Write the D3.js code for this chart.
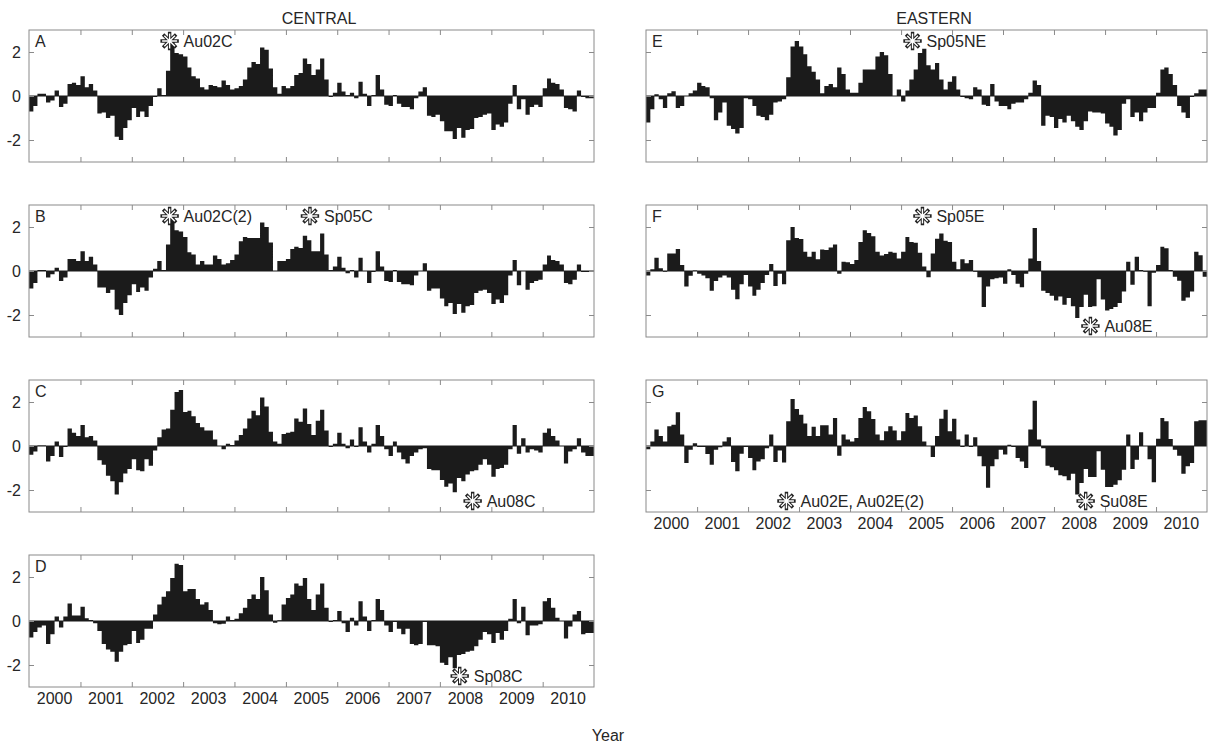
<!DOCTYPE html>
<html>
<head>
<meta charset="utf-8">
<script src="https://cdn.jsdelivr.net/npm/d3@7/dist/d3.min.js"></script>
<style>
	body { margin: 0; background: #fff; }
	text { font-family: "Liberation Sans", Arial, sans-serif; fill: #262626; }
</style>
</head>
<body>
<div id="chart"></div>
<script>
/*
// Monthly anomaly bars, central (A-D) and eastern (E-G) series, 2000-2010
*/

const years = [2000, 2001, 2002, 2003, 2004, 2005, 2006, 2007, 2008, 2009, 2010];
const yTicks = [-2, 0, 2];
const groupTitles = ["CENTRAL", "EASTERN"];
const axisTitle = "Year";

// One value per month, Jan 2000 .. Dec 2010
const seriesA = [
	-0.7,-0.45,0.1,0.1,-0.3,-0.2,0.25,-0.5,-0.35,0.55, 0.6,0.5,0.9,0.4,0.55,0.25,-0.8,-0.75,-1.0,-0.9,
	-1.85,-2.0,-1.45,-1.1,-0.55,-0.95,-0.7,-0.95,-0.45,-0.05, 0.35,0.05,1.15,2.45,1.95,1.9,1.8,1.3,0.9,0.8,
	0.4,0.3,0.5,0.45,0.4,0.7,0.5,0.3,0.35,0.45, 0.75,1.3,1.55,1.45,2.2,2.1,1.25,0.4,0.1,0.45,
	0.35,0.45,0.95,1.05,1.7,1.45,0.95,1.2,1.7,0.75, -0.05,0.15,0.6,0.2,0.05,0.15,-0.1,0.65,0.1,-0.45,
	0.05,0.95,0.3,-0.4,-0.45,0.05,-0.35,-0.5,-0.5,-0.6, -0.1,0.2,0.4,-0.9,-0.95,-0.85,-1.15,-1.6,-1.6,-1.95,
	-1.45,-1.9,-1.55,-1.5,-1.0,-0.95,-0.85,-0.8,-1.55,-1.3, -1.4,-1.2,-0.35,0.5,-0.6,-0.15,-0.85,-0.5,-0.4,-0.5,
	0.35,0.8,0.6,0.55,0.3,-0.55,-0.6,-0.7,0.25,-0.05, -0.1,-0.1
];
const seriesB = [
	-0.8,-0.55,0.05,0.05,-0.3,-0.15,0.15,-0.45,-0.3,0.55, 0.55,0.45,0.9,0.45,0.65,0.3,-0.75,-0.75,-1.0,-0.85,
	-1.75,-2.0,-1.45,-1.1,-0.6,-0.95,-0.75,-0.9,-0.3,0.1, 0.45,0.05,1.2,2.45,1.85,1.8,1.55,0.85,0.75,0.3,
	0.45,0.3,0.3,0.7,0.55,0.3,0.35,0.5,0.75,1.35, 1.55,1.5,1.5,1.5,2.2,2.0,1.3,0.0,0.45,0.45,
	0.55,1.0,1.1,1.05,1.6,1.4,0.9,0.9,1.7,0.75, 0.05,0.2,0.65,0.15,-0.1,0.05,-0.3,0.6,0.0,-0.55,
	-0.05,0.9,0.2,-0.45,-0.5,0.05,-0.5,-0.6,-0.6,-0.65, -0.2,0.0,0.35,-0.9,-0.8,-0.8,-1.25,-1.6,-1.45,-1.95,
	-1.5,-1.9,-1.6,-1.55,-1.0,-0.9,-0.85,-1.0,-1.5,-1.3, -1.45,-1.1,-0.2,0.5,-0.65,0.0,-0.85,-0.55,-0.45,-0.4,
	0.3,0.7,0.5,0.45,0.3,-0.55,-0.6,-0.4,0.3,-0.05, -0.05,-0.05
];
const seriesC = [
	-0.4,-0.25,0.02,0.02,-0.7,-0.45,0.2,-0.5,-0.05,0.8, 0.6,0.45,0.95,0.4,0.45,0.25,-0.65,-0.85,-1.35,-1.6,
	-2.2,-1.65,-1.25,-1.05,-0.6,-1.1,-1.15,-0.6,-0.9,-0.2, 0.4,0.75,0.8,1.65,2.45,2.55,1.55,1.6,1.35,1.05,
	0.85,0.7,0.7,0.3,0.0,-0.15,0.1,0.05,0.25,0.5, 0.8,1.25,1.6,1.4,2.2,1.8,0.65,0.2,0.1,0.55,
	0.6,0.65,1.25,1.1,1.7,1.0,0.5,1.15,1.65,0.7, -0.05,0.1,0.6,0.1,-0.1,0.3,-0.05,0.85,0.2,-0.3,
	0.1,0.95,0.45,-0.15,-0.45,0.2,-0.3,-0.6,-0.8,-0.45, -0.3,-0.15,-0.1,-1.05,-1.1,-1.1,-1.55,-1.85,-1.7,-2.1,
	-1.45,-1.6,-1.3,-1.15,-1.1,-0.85,-0.6,-0.85,-1.4,-1.05, -1.0,-0.85,-0.15,0.95,-0.35,0.35,-0.3,-0.15,-0.2,-0.3,
	0.6,0.8,0.45,0.25,0.0,-0.8,-0.25,-0.15,0.35,-0.3, -0.45,-0.45
];
const seriesD = [
	-0.75,-0.5,-0.3,-0.2,-1.05,-0.6,0.2,-0.3,0.2,0.8, 0.25,0.25,0.65,0.12,0.05,-0.1,-0.45,-1.05,-1.3,-1.4,
	-1.85,-1.4,-1.1,-1.05,-0.45,-1.0,-0.85,-0.35,-0.35,0.3, 0.75,1.1,1.35,1.95,2.6,2.55,1.35,1.45,1.45,1.0,
	0.75,0.85,0.5,-0.1,-0.15,-0.12,0.2,0.05,0.1,0.35, 0.6,1.0,1.2,1.0,2.0,1.4,0.3,-0.08,0.03,0.75,
	1.05,1.2,1.7,1.6,1.95,1.0,0.5,1.2,1.7,0.6, -0.05,0.05,0.45,-0.1,-0.5,0.15,-0.2,0.9,0.2,-0.45,
	0.05,1.0,0.5,-0.2,-0.5,-0.05,-0.35,-0.6,-0.35,-1.05, -1.1,-1.05,-0.05,-1.1,-1.1,-1.15,-1.9,-2.0,-1.65,-2.15,
	-1.55,-1.5,-1.4,-1.35,-1.15,-0.85,-0.5,-0.6,-1.0,-0.55, -0.85,-0.45,0.1,1.0,-0.1,0.65,-0.65,-0.2,-0.2,-0.15,
	0.9,1.05,0.6,0.15,0.0,-0.8,-0.25,0.3,0.45,-0.6, -0.55,-0.55
];
const seriesE = [
	-1.2,-0.6,0.08,-0.15,-0.55,0.12,0.22,-0.55,-0.45,0.0, 0.12,0.25,0.6,0.45,0.4,-0.1,-1.1,-0.75,-0.3,-1.35,
	-1.5,-1.7,-1.45,-0.1,-0.15,-0.45,-0.9,-0.95,-1.1,-0.85, -0.3,-0.25,-0.15,0.85,2.25,2.5,2.25,1.9,1.35,1.1,
	0.75,0.12,0.45,0.55,0.4,1.3,1.0,0.3,0.15,0.15, 0.6,1.2,1.2,1.2,1.8,2.0,1.85,1.0,0.0,0.3,
	-0.25,0.25,0.75,1.2,1.95,2.15,1.4,1.2,1.5,0.75, 0.3,0.65,0.9,0.3,-0.05,-0.1,-0.15,0.4,0.3,-0.4,
	-0.45,0.55,-0.25,-0.45,-0.45,-0.6,-0.35,-0.3,-0.3,-0.15, 0.15,0.7,0.5,-1.35,-0.9,-0.95,-1.45,-1.05,-1.2,-0.9,
	-1.15,-1.4,-1.55,-1.15,-0.7,-0.75,-0.75,-0.8,-1.25,-1.4, -1.8,-1.55,-0.35,-0.15,-0.95,-0.75,-1.15,-0.75,-0.55,-0.55,
	0.15,1.2,1.3,1.0,0.5,-0.45,-0.75,-1.0,-0.05,0.12, 0.3,0.3
];
const seriesF = [
	-0.2,0.08,0.6,0.12,-0.03,0.8,0.8,1.0,0.27,-0.7, -0.22,0.02,-0.13,-0.2,-0.33,-0.9,-0.45,-0.3,-0.2,-0.3,
	-0.85,-1.28,-0.6,-0.18,-0.7,-1.13,-0.85,-0.55,-0.18,0.32, -0.68,-0.13,-0.6,1.4,2.0,1.5,1.45,0.87,0.65,0.87,
	0.53,0.98,0.95,1.07,1.2,-0.13,0.42,0.4,0.32,0.5, 1.32,1.85,1.73,1.58,0.87,0.7,0.77,0.87,0.83,0.57,
	0.87,1.55,1.32,1.28,0.83,0.2,-0.28,0.8,1.47,1.7, 1.37,1.32,0.42,0.08,0.53,0.35,0.5,-0.03,-0.28,-1.64,
	-0.7,-0.37,-0.33,-0.3,-0.58,0.08,-0.18,-0.58,-0.74,-0.13, 0.57,1.95,0.45,-0.9,-1.0,-1.13,-1.34,-1.16,-1.53,-1.23,
	-1.6,-2.14,-1.64,-1.08,-1.64,-1.6,-0.37,-1.3,-1.8,-1.73, -1.64,-1.46,-0.93,0.42,-0.63,0.65,0.05,-0.03,-1.6,-0.08,
	0.27,1.1,1.03,0.05,-0.26,-0.44,-1.35,-1.2,-0.93,0.87, 0.72,-0.26
];
const seriesG = [
	-0.15,0.2,0.75,0.45,0.2,0.9,0.97,1.53,0.52,-0.77, -0.17,0.13,-0.05,-0.05,-0.36,-0.85,-0.17,-0.06,0.2,0.4,
	-0.73,-1.15,-0.35,-0.05,-0.55,-1.1,-0.7,-0.6,-0.1,0.52, -0.73,-0.2,-0.75,1.12,2.14,1.68,1.42,1.02,0.45,0.87,
	0.45,0.94,0.94,0.52,1.27,-0.44,0.52,0.29,0.2,0.36, 1.27,1.77,1.58,1.23,0.52,0.26,0.67,0.9,0.71,0.26,
	0.67,1.5,1.27,1.39,0.9,0.2,0.0,-0.5,0.45,1.24, 1.65,0.67,1.24,0.29,-0.05,0.52,-0.05,0.4,-0.47,-0.92,
	-1.9,-0.92,-0.6,-0.17,-0.39,0.06,-0.05,-0.55,-0.7,-1.0, 0.75,2.06,0.29,-0.1,-0.9,-0.97,-1.1,-1.33,-1.38,-1.56,
	-1.26,-2.2,-1.68,-1.05,-1.41,-1.41,-0.24,-1.08,-1.86,-1.86, -1.76,-1.56,-1.08,0.52,-1.05,-0.62,0.62,0.0,-0.6,-1.65,
	0.33,1.27,1.12,0.32,-0.17,-0.44,-1.26,-0.92,-0.77,1.12, 1.17,1.17
];

// Event markers: panel, date, value, label
const markers = [
	{panel: "A", date: "2002-09-27", value: 2.5, label: "Au02C"},
	{panel: "B", date: "2002-09-27", value: 2.5, label: "Au02C(2)"},
	{panel: "B", date: "2005-06-21", value: 2.5, label: "Sp05C"},
	{panel: "C", date: "2008-08-21", value: -2.5, label: "Au08C"},
	{panel: "D", date: "2008-05-21", value: -2.5, label: "Sp08C"},
	{panel: "E", date: "2005-03-24", value: 2.5, label: "Sp05NE"},
	{panel: "F", date: "2005-06-03", value: 2.5, label: "Sp05E"},
	{panel: "F", date: "2008-09-18", value: -2.5, label: "Au08E"},
	{panel: "G", date: "2002-10-03", value: -2.5, label: "Au02E, Au02E(2)"},
	{panel: "G", date: "2008-08-15", value: -2.5, label: "Su08E"}
];

const BAR_COLOR = "#1b1b1b";
const BOX_COLOR = "#8a8a8a";
const FONT_SIZE = 16;
const TICK_LEN = 5;

// Panel boxes in page pixels
const LEFT = {x: 29, w: 565};
const RIGHT = {x: 646, w: 561};
const PANEL_H = 132;
const panels = [
	{name: "A", data: seriesA, col: LEFT, top: 30, yLabels: true, xLabels: false},
	{name: "B", data: seriesB, col: LEFT, top: 205, yLabels: true, xLabels: false},
	{name: "C", data: seriesC, col: LEFT, top: 380, yLabels: true, xLabels: false},
	{name: "D", data: seriesD, col: LEFT, top: 555, yLabels: true, xLabels: true},
	{name: "E", data: seriesE, col: RIGHT, top: 30, yLabels: false, xLabels: false},
	{name: "F", data: seriesF, col: RIGHT, top: 205, yLabels: false, xLabels: false},
	{name: "G", data: seriesG, col: RIGHT, top: 380, yLabels: false, xLabels: true}
];

const svg = d3.select("#chart")
			  .append("svg")
			  .attr("width", 1216)
			  .attr("height", 744);

panels.forEach(p => drawPanel(svg, p));

svg.append("text")
   .attr("x", 319).attr("y", 24)
   .attr("text-anchor", "middle")
   .attr("font-size", FONT_SIZE + "px")
   .text(groupTitles[0]);

svg.append("text")
   .attr("x", 934).attr("y", 24)
   .attr("text-anchor", "middle")
   .attr("font-size", FONT_SIZE + "px")
   .text(groupTitles[1]);

svg.append("text")
   .attr("x", 608).attr("y", 741)
   .attr("text-anchor", "middle")
   .attr("font-size", FONT_SIZE + "px")
   .text(axisTitle);


/* Draws one panel: bars, zero line, box with inward ticks, labels and markers */
function drawPanel(svg, p) {
	const x = d3.scaleTime()
				.domain([new Date(years[0], 0, 1), new Date(years[years.length - 1] + 1, 0, 1)])
				.range([p.col.x, p.col.x + p.col.w]);
	const y = d3.scaleLinear()
				.domain([-3, 3])
				.range([p.top + PANEL_H, p.top]);

	const g = svg.append("g");

	// Bars as one stepped area so neighbouring months leave no seams
	const steps = p.data.map((d, i) => ({date: new Date(years[0], i, 1), v: d}));
	steps.push({date: new Date(years[0], p.data.length, 1), v: p.data[p.data.length - 1]});

	const bars = d3.area()
				   .curve(d3.curveStepAfter)
				   .x(d => x(d.date))
				   .y0(y(0))
				   .y1(d => y(d.v));

	g.append("path")
	 .datum(steps)
	 .attr("d", bars)
	 .attr("fill", BAR_COLOR);

	// Bar baseline
	g.append("line")
	 .attr("x1", p.col.x).attr("x2", p.col.x + p.col.w)
	 .attr("y1", y(0)).attr("y2", y(0))
	 .attr("stroke", BAR_COLOR)
	 .attr("stroke-width", 1);

	// Year boundaries for ticks, labels sit mid-year
	const bounds = years.slice(1).map(yr => new Date(yr, 0, 1));

	const axisTop = d3.axisBottom(x).tickValues(bounds).tickSize(TICK_LEN).tickFormat("");
	const axisBot = d3.axisTop(x).tickValues(bounds).tickSize(TICK_LEN).tickFormat("");
	const axisL = d3.axisRight(y).tickValues(yTicks).tickSize(TICK_LEN).tickFormat("");
	const axisR = d3.axisLeft(y).tickValues(yTicks).tickSize(TICK_LEN).tickFormat("");

	[[axisTop, 0, p.top], [axisBot, 0, p.top + PANEL_H], [axisL, p.col.x, 0], [axisR, p.col.x + p.col.w, 0]]
		.forEach(([ax, tx, ty]) => {
			const a = g.append("g")
					   .attr("transform", "translate(" + tx + "," + ty + ")")
					   .call(ax);
			a.select(".domain").remove();
			a.selectAll("line").attr("stroke", BOX_COLOR);
		});

	g.append("rect")
	 .attr("x", p.col.x).attr("y", p.top)
	 .attr("width", p.col.w).attr("height", PANEL_H)
	 .attr("fill", "none")
	 .attr("stroke", BOX_COLOR)
	 .attr("stroke-width", 1);

	// Panel letter
	g.append("text")
	 .attr("x", p.col.x + 6).attr("y", p.top + 17)
	 .attr("font-size", FONT_SIZE + "px")
	 .text(p.name);

	if (p.yLabels) {
		g.selectAll("text.ylab")
		 .data(yTicks)
		 .enter()
		 .append("text")
		 .attr("class", "ylab")
		 .attr("x", p.col.x - 8)
		 .attr("y", d => y(d) + 5.5)
		 .attr("text-anchor", "end")
		 .attr("font-size", FONT_SIZE + "px")
		 .text(d => d);
	}

	if (p.xLabels) {
		g.selectAll("text.xlab")
		 .data(years)
		 .enter()
		 .append("text")
		 .attr("class", "xlab")
		 .attr("x", yr => x(new Date(yr, 6, 1)))
		 .attr("y", p.top + PANEL_H + 17)
		 .attr("text-anchor", "middle")
		 .attr("font-size", FONT_SIZE + "px")
		 .text(yr => yr);
	}

	// Event markers: outlined asterisk and label
	const parse = d3.timeParse("%Y-%m-%d");
	const mk = g.selectAll("g.marker")
				.data(markers.filter(m => m.panel == p.name))
				.enter()
				.append("g")
				.attr("class", "marker")
				.attr("transform", m => "translate(" + x(parse(m.date)) + "," + y(m.value) + ")");

	const star = d3.range(4).map(k => {
		const a = k * Math.PI / 4;
		const r = 7.5;
		return "M" + (-r * Math.sin(a)) + "," + (-r * Math.cos(a)) + "L" + (r * Math.sin(a)) + "," + (r * Math.cos(a));
	}).join("");

	mk.append("path").attr("d", star)
	  .attr("stroke", "#222").attr("stroke-width", 3.4).attr("stroke-linecap", "square");
	mk.append("path").attr("d", star)
	  .attr("stroke", "#fff").attr("stroke-width", 1.4).attr("stroke-linecap", "butt");

	mk.append("text")
	  .attr("x", 14).attr("y", 5.5)
	  .attr("font-size", FONT_SIZE + "px")
	  .text(m => m.label);
}
</script>
</body>
</html>
